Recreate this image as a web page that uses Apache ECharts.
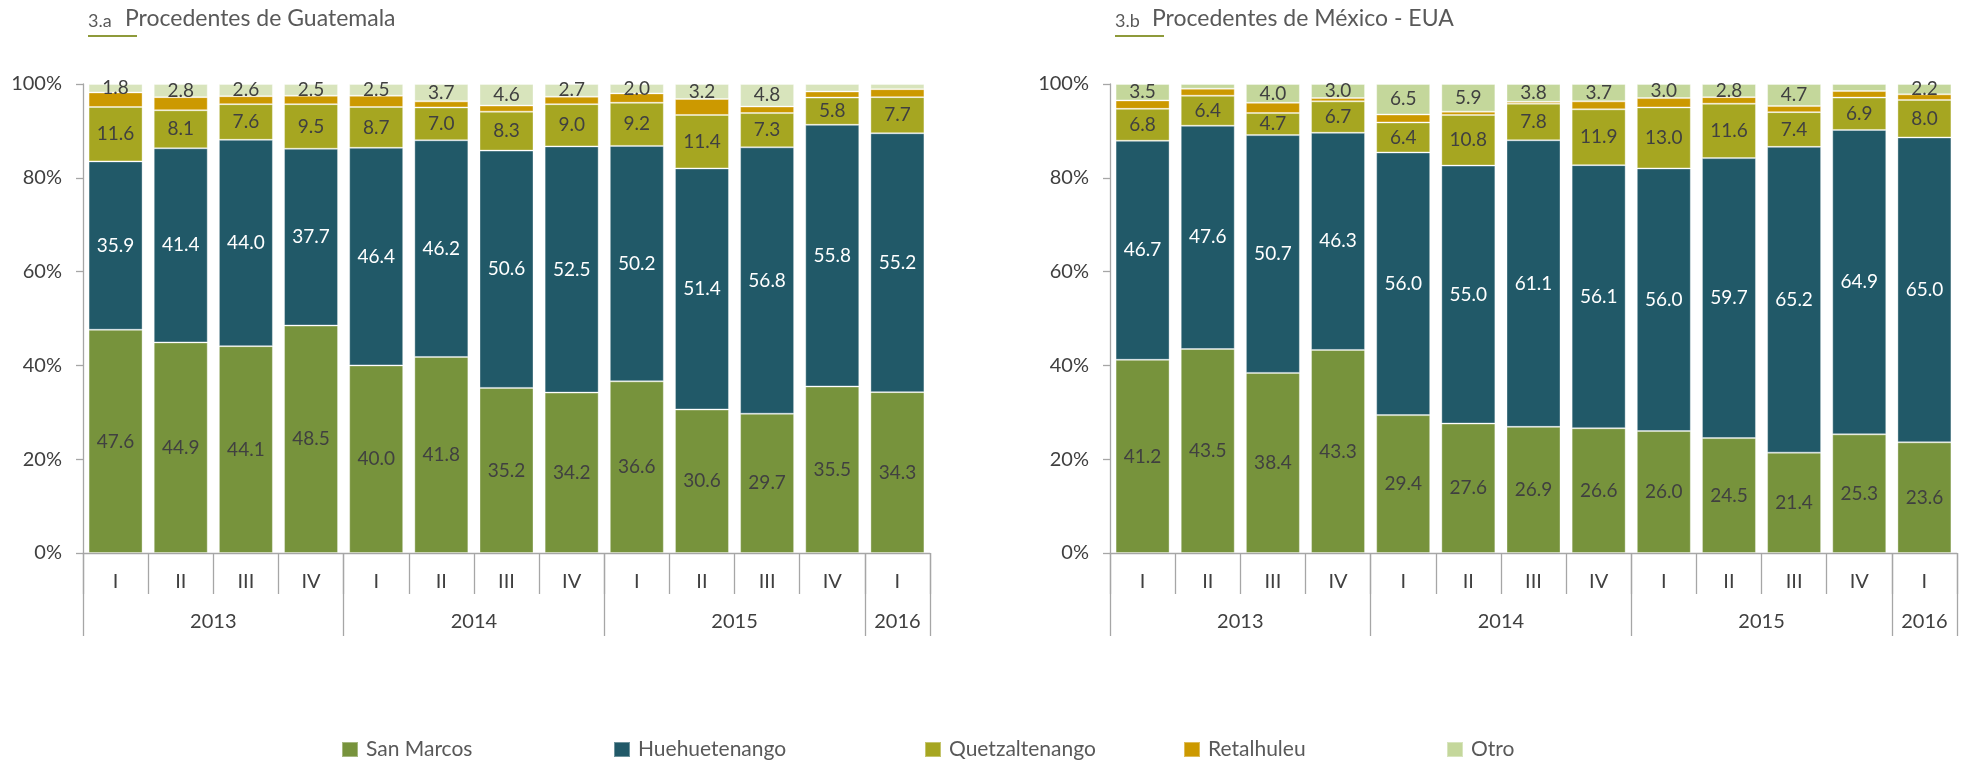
<!DOCTYPE html>
<html>
<head>
<meta charset="utf-8">
<title>Procedentes de Guatemala / México - EUA</title>
<script src="https://cdn.jsdelivr.net/npm/echarts@6/dist/echarts.min.js"></script>
<style>
  html, body { margin: 0; padding: 0; background: #fff; }
  #chart { width: 1965px; height: 761px; }
</style>
</head>
<body>
<div id="chart"></div>
<script>
// categorías (trimestres y años)
const quarters = ['I', 'II', 'III', 'IV', 'I', 'II', 'III', 'IV', 'I', 'II', 'III', 'IV', 'I']
const years = ['2013', '2014', '2015', '2016']
const yearSpans = [4, 4, 4, 1]
const seriesNames = ['San Marcos', 'Huehuetenango', 'Quetzaltenango', 'Retalhuleu', 'Otro']

// 3.a Procedentes de Guatemala (%)
const gtSanMarcos = [47.6, 44.9, 44.1, 48.5, 40.0, 41.8, 35.2, 34.2, 36.6, 30.6, 29.7, 35.5, 34.3]
const gtHuehuetenango = [35.9, 41.4, 44.0, 37.7, 46.4, 46.2, 50.6, 52.5, 50.2, 51.4, 56.8, 55.8, 55.2]
const gtQuetzaltenango = [11.6, 8.1, 7.6, 9.5, 8.7, 7.0, 8.3, 9.0, 9.2, 11.4, 7.3, 5.8, 7.7]
const gtRetalhuleu = [3.1, 2.8, 1.7, 1.8, 2.4, 1.3, 1.3, 1.6, 2.0, 3.4, 1.4, 1.3, 1.7]
const gtOtro = [1.8, 2.8, 2.6, 2.5, 2.5, 3.7, 4.6, 2.7, 2.0, 3.2, 4.8, 1.6, 1.1]

// 3.b Procedentes de México - EUA (%)
const mxSanMarcos = [41.2, 43.5, 38.4, 43.3, 29.4, 27.6, 26.9, 26.6, 26.0, 24.5, 21.4, 25.3, 23.6]
const mxHuehuetenango = [46.7, 47.6, 50.7, 46.3, 56.0, 55.0, 61.1, 56.1, 56.0, 59.7, 65.2, 64.9, 65.0]
const mxQuetzaltenango = [6.8, 6.4, 4.7, 6.7, 6.4, 10.8, 7.8, 11.9, 13.0, 11.6, 7.4, 6.9, 8.0]
const mxRetalhuleu = [1.8, 1.5, 2.2, 0.7, 1.7, 0.7, 0.4, 1.7, 2.0, 1.4, 1.3, 1.4, 1.2]
const mxOtro = [3.5, 1.0, 4.0, 3.0, 6.5, 5.9, 3.8, 3.7, 3.0, 2.8, 4.7, 1.5, 2.2]

const FONT = 'Lato, "Open Sans", sans-serif'
const colors = ['#77933C', '#215968', '#A6A621', '#CC9900']
const otroColors = ['#D8E4BC', '#C4D79B']
const textDark = '#404040'
const axisGray = '#A6A6A6'

// límites y centros de los años en unidades de categoría
const yearBounds = [0]
const yearCenters = []
yearSpans.forEach((s, i) => {
  yearCenters.push(yearBounds[i] + s / 2)
  yearBounds.push(yearBounds[i] + s)
})

const grids = [
  { left: 83, top: 84, width: 847, height: 469 },
  { left: 1110, top: 84, width: 847, height: 469 }
]

const xAxes = []
const yAxes = []
grids.forEach((g, i) => {
  xAxes.push({
    type: 'category',
    gridIndex: i,
    data: quarters,
    axisLine: { lineStyle: { color: axisGray, width: 1.3 } },
    axisTick: { show: true, interval: 0, length: 41, lineStyle: { color: axisGray, width: 1.3 } },
    axisLabel: { interval: 0, margin: 19, fontFamily: FONT, fontSize: 20, color: textDark }
  })
  xAxes.push({
    type: 'value',
    gridIndex: i,
    position: 'bottom',
    min: 0,
    max: quarters.length,
    axisLine: { show: false },
    splitLine: { show: false },
    axisTick: { show: true, customValues: yearBounds, length: 83, lineStyle: { color: axisGray, width: 1.3 } },
    axisLabel: {
      customValues: yearCenters,
      margin: 59,
      fontFamily: FONT,
      fontSize: 20,
      color: textDark,
      formatter: v => years[yearCenters.indexOf(v)] || ''
    }
  })
  yAxes.push({
    type: 'value',
    gridIndex: i,
    min: 0,
    max: 100,
    interval: 20,
    axisLine: { show: true, lineStyle: { color: axisGray, width: 1.3 } },
    axisTick: { show: true, length: 7, lineStyle: { color: axisGray, width: 1.3 } },
    splitLine: { show: false },
    axisLabel: { formatter: '{value}%', margin: 21, fontFamily: FONT, fontSize: 20, color: textDark }
  })
})

const makeSeries = (chartIdx, arrays) => arrays.map((arr, k) => {
  const name = seriesNames[k]
  const isOtro = name === 'Otro'
  const showLabel = name !== 'Retalhuleu'
  return {
    name: name,
    type: 'bar',
    stack: 'total' + chartIdx,
    xAxisIndex: chartIdx * 2,
    yAxisIndex: chartIdx,
    barWidth: 54,
    data: arr,
    itemStyle: {
      color: isOtro ? otroColors[chartIdx] : colors[k],
      borderColor: 'rgba(255,255,255,0.35)',
      borderWidth: 1
    },
    label: {
      show: showLabel,
      position: 'inside',
      fontFamily: FONT,
      fontSize: 19,
      color: name === 'Huehuetenango' ? '#ffffff' : textDark,
      // las etiquetas pequeñas de "Otro" no aparecen en el original
      formatter: p => (isOtro && p.value < 1.7) ? '' : p.value.toFixed(1)
    },
    emphasis: { disabled: true }
  }
})

const series = [
  ...makeSeries(0, [gtSanMarcos, gtHuehuetenango, gtQuetzaltenango, gtRetalhuleu, gtOtro]),
  ...makeSeries(1, [mxSanMarcos, mxHuehuetenango, mxQuetzaltenango, mxRetalhuleu, mxOtro])
]

const titleText = (x, label, title) => [
  {
    type: 'text', left: x, top: 12,
    style: { text: label, fontFamily: FONT, fontSize: 18, fill: '#595959' }
  },
  {
    type: 'text', left: x + 37, top: 7,
    style: { text: title, fontFamily: FONT, fontSize: 23, fill: '#595959' }
  },
  {
    type: 'rect', left: x, top: 35,
    shape: { width: 49, height: 2 },
    style: { fill: '#8E9A3A' }
  }
]

// una leyenda por elemento, para colocarlos como en el original
const legendLefts = [336, 608, 919, 1178, 1441]
const legends = seriesNames.map((n, k) => ({
  left: legendLefts[k],
  top: 734,
  itemWidth: 16,
  itemHeight: 15,
  selectedMode: false,
  icon: 'rect',
  textStyle: { fontFamily: FONT, fontSize: 21, color: '#595959', padding: [0, 0, 0, 3] },
  data: [{ name: n, itemStyle: { color: n === 'Otro' ? otroColors[1] : colors[k] } }]
}))

const chart = echarts.init(document.getElementById('chart'))
chart.setOption({
  backgroundColor: '#ffffff',
  animation: false,
  grid: grids,
  xAxis: xAxes,
  yAxis: yAxes,
  legend: legends,
  graphic: [
    ...titleText(88, '3.a', 'Procedentes de Guatemala'),
    ...titleText(1115, '3.b', 'Procedentes de México - EUA')
  ],
  series: series
})
</script>
</body>
</html>
